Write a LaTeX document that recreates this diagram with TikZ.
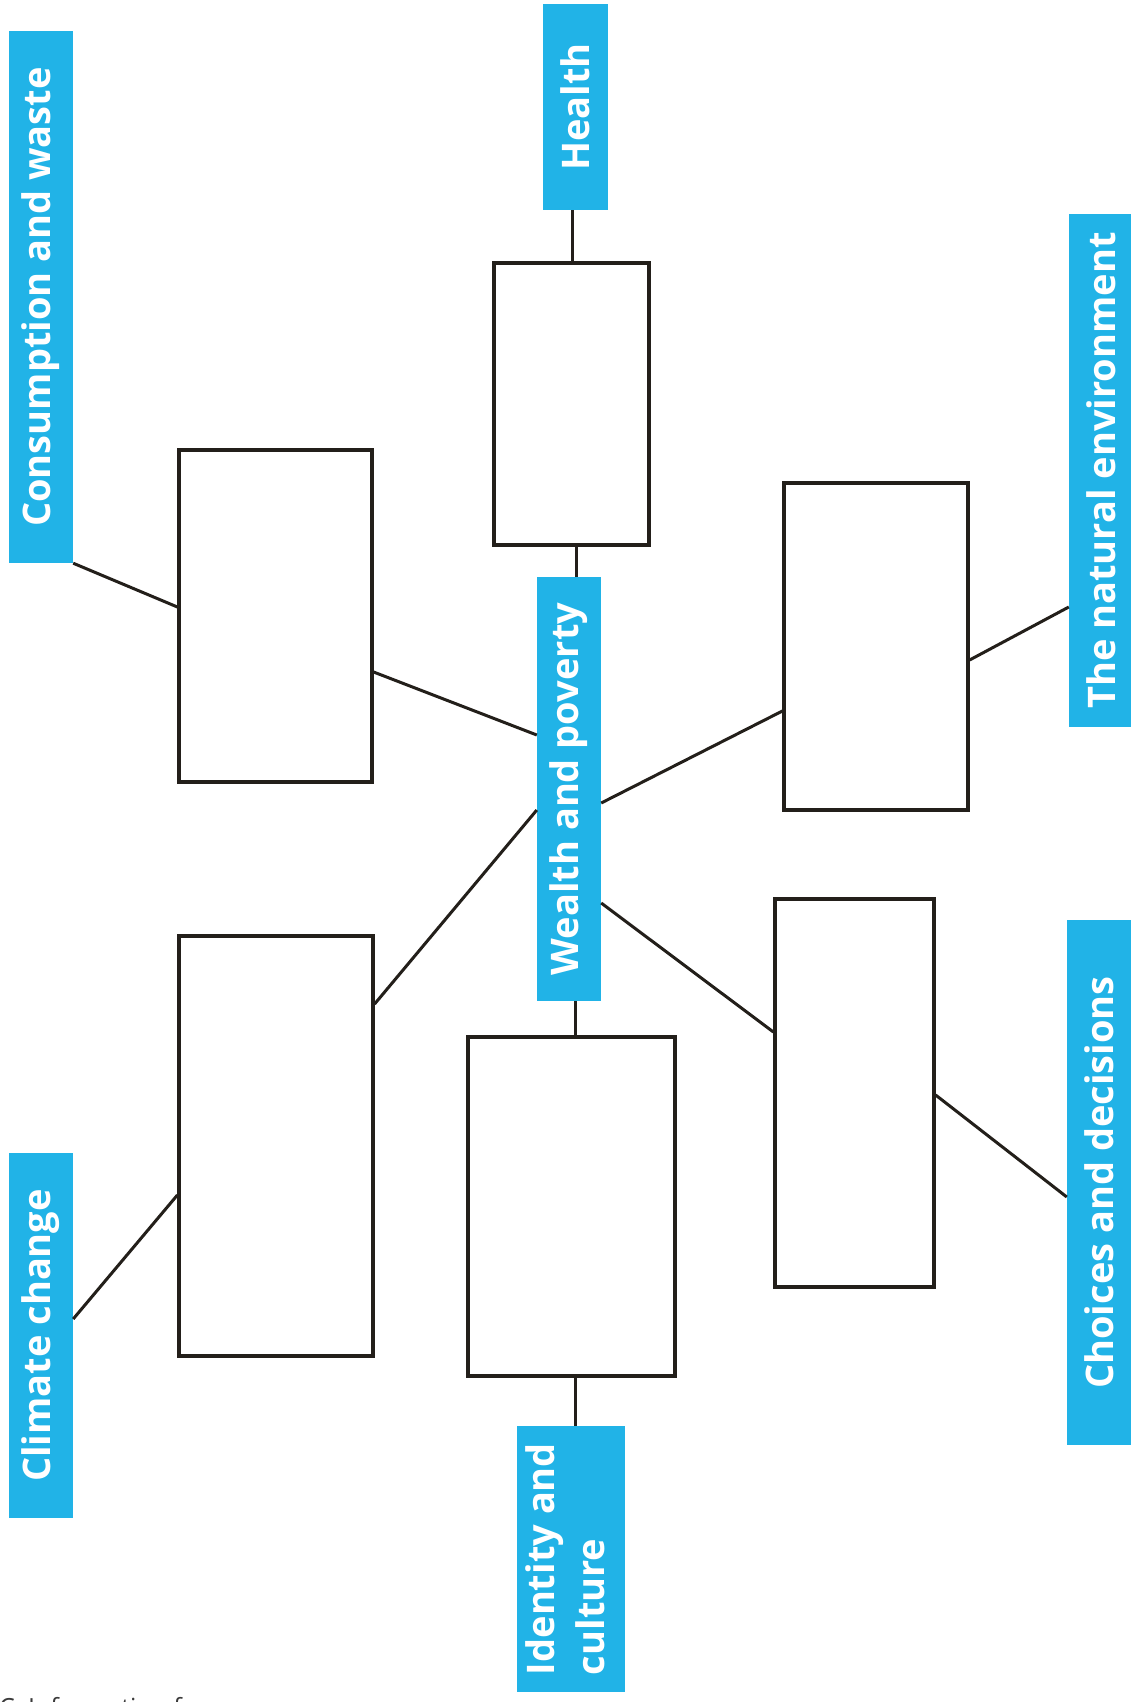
\documentclass[tikz,border=0pt]{standalone}
\usepackage{fontspec}
\setmainfont{Open Sans}
\usetikzlibrary{calc}
\definecolor{topicblue}{HTML}{21B3E7}
\definecolor{inkline}{HTML}{231F1A}
\definecolor{footgray}{HTML}{3A3A3A}
\begin{document}
\begin{tikzpicture}[x=1pt,y=-1pt,
  topic/.style={fill=topicblue,draw=none,inner sep=0pt,text=white,
    font=\bfseries\fontsize{38}{44}\selectfont},
  emptybox/.style={draw=inkline,line width=3.2pt,fill=white,inner sep=0pt},
  link/.style={draw=inkline,line width=3pt}]
\useasboundingbox (0,0) rectangle (1130,1702);
% topic boxes
\node[topic,minimum width=65pt,minimum height=206pt] (health) at (575.5,107) {\rotatebox{90}{Health}};
\node[topic,minimum width=64pt,minimum height=532pt] (cw) at (41,297) {\rotatebox{90}{Consumption and waste}};
\node[topic,minimum width=64pt,minimum height=424pt] (wealth) at (569,789) {\rotatebox{90}{Wealth and poverty}};
\node[topic,minimum width=65pt,minimum height=513pt] (ne) at (1101.5,470.5) {\rotatebox{90}{The natural environment}};
\node[topic,minimum width=65pt,minimum height=525pt] (choices) at (1099.5,1182.5) {\rotatebox{90}{Choices and decisions}};
\node[topic,minimum width=108pt,minimum height=266pt] (identity) at (571,1559) {\rotatebox{90}{\begin{tabular}{@{}l@{}}Identity and\\[6pt]culture\end{tabular}}};
\node[topic,minimum width=64pt,minimum height=365pt] (climate) at (41,1335.5) {\rotatebox{90}{Climate change}};
% empty boxes
\node[emptybox,minimum width=155pt,minimum height=282pt] (hbox) at (571.5,404) {};
\node[emptybox,minimum width=193pt,minimum height=332pt] (cbox) at (275.5,616) {};
\node[emptybox,minimum width=184pt,minimum height=327pt] (nbox) at (876,646.5) {};
\node[emptybox,minimum width=159pt,minimum height=388pt] (chbox) at (854.5,1093) {};
\node[emptybox,minimum width=207pt,minimum height=339pt] (ibox) at (571.5,1206.5) {};
\node[emptybox,minimum width=194pt,minimum height=420pt] (clbox) at (276,1146) {};
% connectors
\draw[link] (health.south -| 572,0) -- (hbox.north -| 572,0);
\draw[link] (hbox.south -| 576,0) -- (wealth.north -| 576,0);
\draw[link] (wealth.south -| 575,0) -- (ibox.north -| 575,0);
\draw[link] (ibox.south -| 575,0) -- (identity.north -| 575,0);
\draw[link] (cw.south east) -- (cbox.west |- 0,607);
\draw[link] (cbox.east |- 0,672) -- (wealth.west |- 0,735);
\draw[link] (wealth.west |- 0,810) -- (clbox.east |- 0,1004);
\draw[link] (clbox.west |- 0,1195) -- (climate.east |- 0,1319);
\draw[link] (wealth.east |- 0,803) -- (nbox.west |- 0,711);
\draw[link] (nbox.east |- 0,660) -- (ne.west |- 0,607);
\draw[link] (wealth.east |- 0,903) -- (chbox.west |- 0,1032);
\draw[link] (chbox.east |- 0,1095) -- (choices.west |- 0,1197);
% footer (cut by the page edge, as in the original)
\node[anchor=base west,inner sep=0pt,text=footgray,font=\fontsize{25}{30}\selectfont] (foot) at (-1,1716) {C: Information f};
\end{tikzpicture}
\end{document}
